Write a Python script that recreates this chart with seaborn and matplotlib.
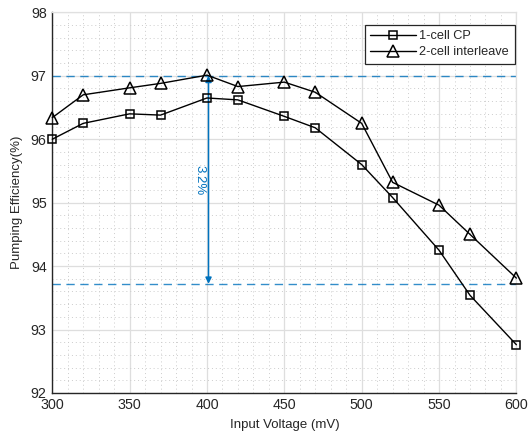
import matplotlib
matplotlib.use("Agg")
import matplotlib.pyplot as plt
from matplotlib.ticker import MultipleLocator
import seaborn as sns
import pandas as pd

# Input voltage sweep (mV)
voltage = [300, 320, 350, 370, 400, 420, 450, 470, 500, 520, 550, 570, 600]
# Pumping efficiency (%) for each topology
eff_1cell = [96.00, 96.25, 96.40, 96.38, 96.65, 96.62, 96.36, 96.18, 95.60, 95.08, 94.25, 93.54, 92.76]
eff_2cell = [96.34, 96.70, 96.81, 96.88, 97.01, 96.83, 96.90, 96.74, 96.25, 95.32, 94.96, 94.50, 93.81]
series_names = ["1-cell CP", "2-cell interleave"]

# Reference levels for the efficiency gap annotation
level_high = 97.0
level_low = 93.72
gap_x = 401
gap_label = "3.2%"

df = pd.concat([
    pd.DataFrame({"V": voltage, "eff": eff_1cell, "topology": series_names[0]}),
    pd.DataFrame({"V": voltage, "eff": eff_2cell, "topology": series_names[1]}),
])

sns.set_style("white")
plt.rcParams["font.family"] = ["Liberation Sans", "DejaVu Sans"]

fig = plt.figure(figsize=(5.28, 4.41), dpi=100)
ax = fig.add_axes([0.099, 0.109, 0.879, 0.863])

blue = "#0072BD"
ax.axhline(level_high, color=blue, lw=1.0, ls=(0, (6, 4)), alpha=0.8, zorder=2)
ax.axhline(level_low, color=blue, lw=1.0, ls=(0, (6, 4)), alpha=0.8, zorder=2)

marker_style = {series_names[0]: "s", series_names[1]: "^"}
marker_size = {series_names[0]: 5.2, series_names[1]: 8}
for name in series_names:
    sub = df[df["topology"] == name]
    sns.lineplot(data=sub, x="V", y="eff", ax=ax, color="black", lw=1.0,
                 marker=marker_style[name], markersize=marker_size[name],
                 markerfacecolor="none", markeredgecolor="black",
                 markeredgewidth=1.1, label=name, zorder=4, clip_on=False)

ax.annotate("", xy=(gap_x, level_low), xytext=(gap_x, level_high),
            arrowprops=dict(arrowstyle="<|-|>", color=blue, lw=1.1,
                            shrinkA=0, shrinkB=0, mutation_scale=9), zorder=3)
ax.text(gap_x - 6, 95.35, gap_label, color=blue, rotation=-90,
        ha="center", va="center", fontsize=9.5)

ax.set_xlim(300, 600)
ax.set_ylim(92, 98)
ax.xaxis.set_major_locator(MultipleLocator(50))
ax.xaxis.set_minor_locator(MultipleLocator(10))
ax.yaxis.set_major_locator(MultipleLocator(1))
ax.yaxis.set_minor_locator(MultipleLocator(0.2))

ax.grid(True, which="major", color="#dedede", lw=0.9, ls="-", zorder=0)
ax.grid(True, which="minor", color="#cccccc", lw=0.7, ls=(0, (1, 3)), zorder=0)
ax.set_axisbelow(True)

for side in ["left", "bottom"]:
    ax.spines[side].set_color("#262626")
    ax.spines[side].set_linewidth(1.0)
for side in ["top", "right"]:
    ax.spines[side].set_color("#e0e0e0")
    ax.spines[side].set_linewidth(0.9)

ax.tick_params(axis="both", which="major", direction="in", length=5, width=0.9,
               color="#262626", labelsize=10.3, labelcolor="#262626", pad=4,
               top=False, right=False)
ax.tick_params(axis="both", which="minor", direction="in", length=3, width=0.8,
               color="#262626", top=False, right=False)

ax.set_xlabel("Input Voltage (mV)", fontsize=9.5, color="#262626", labelpad=5)
ax.set_ylabel("Pumping Efficiency(%)", fontsize=9.5, color="#262626", labelpad=6)

leg = ax.legend(loc="upper right", bbox_to_anchor=(0.997, 0.968), borderaxespad=0,
                fontsize=9.2, handlelength=3.6, handletextpad=0.25,
                labelspacing=0.3, borderpad=0.45, fancybox=False, framealpha=1)
leg.get_frame().set_edgecolor("#262626")
leg.get_frame().set_linewidth(0.9)

fig.savefig("out.png", dpi=100)
